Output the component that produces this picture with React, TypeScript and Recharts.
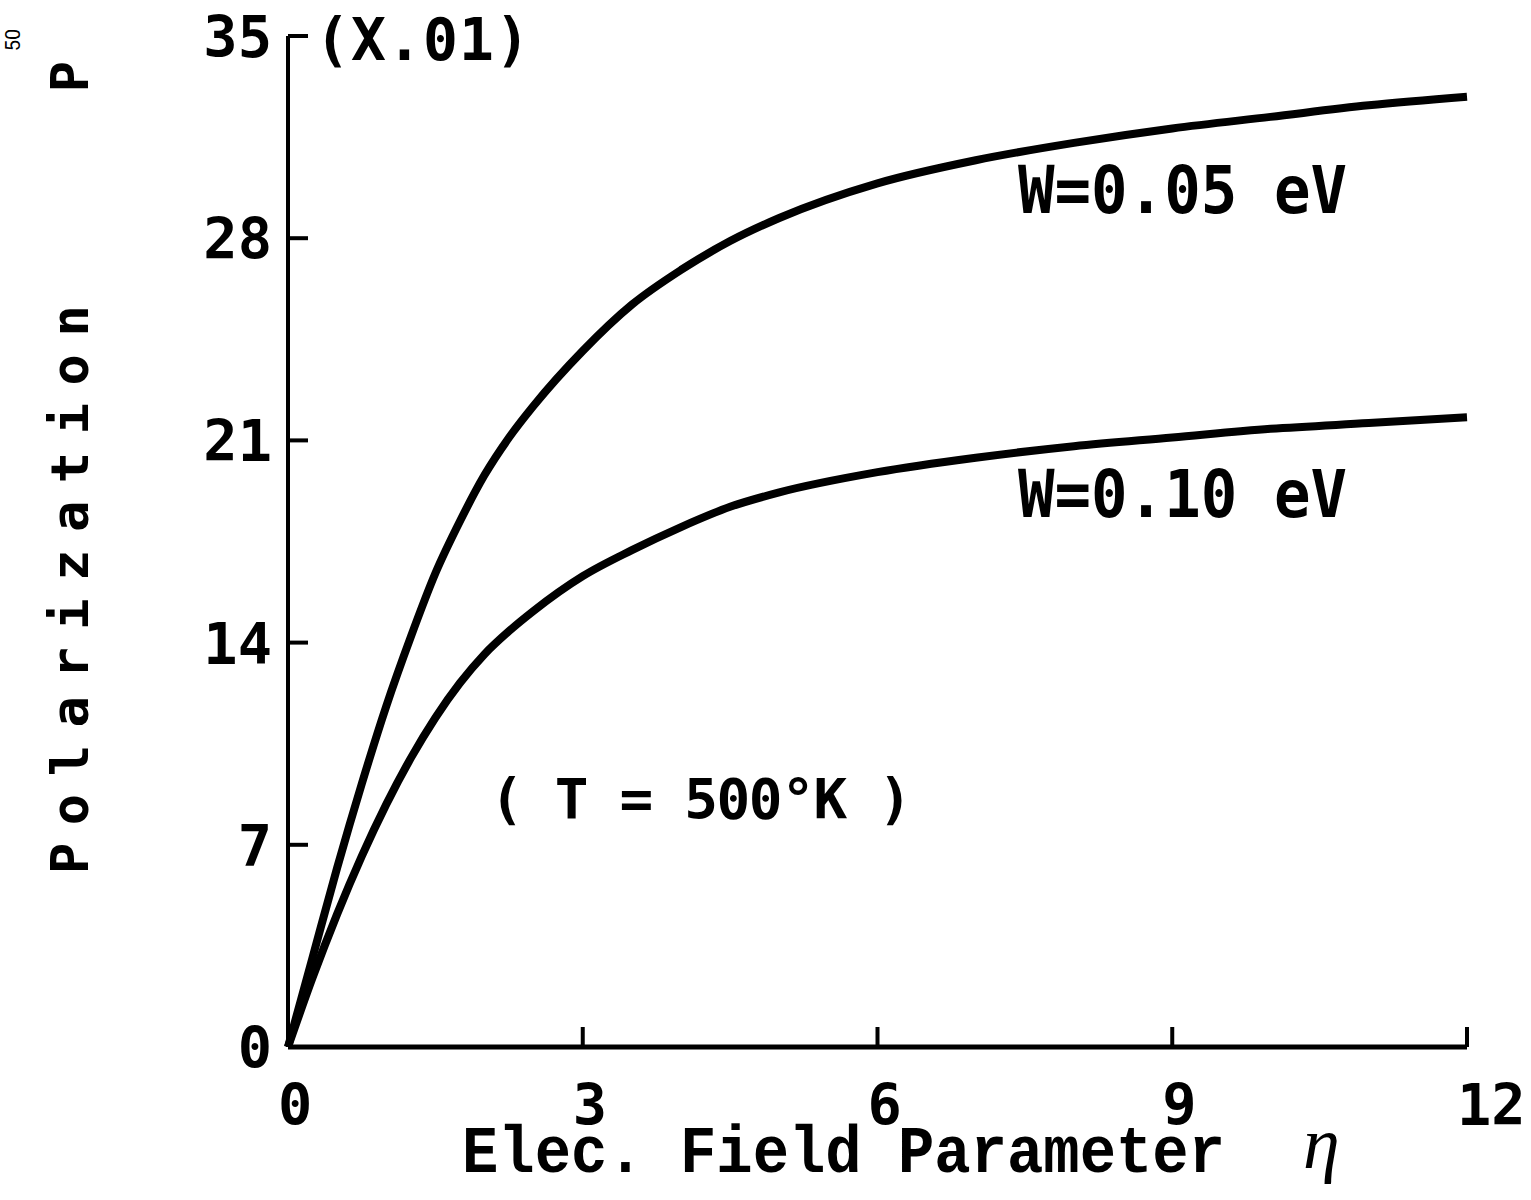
import React from 'react';
import { LineChart, Line, XAxis, YAxis } from 'recharts';

// electric field parameter eta and polarization P (x 0.01)
const ETA = [0, 0.25, 0.5, 0.75, 1, 1.25, 1.5, 1.75, 2, 2.25, 2.5, 3, 3.5, 4, 4.5, 5, 6, 7, 8, 9, 10, 11, 12];
const P_W005 = [0, 3.1, 6.2, 9.1, 11.8, 14.2, 16.4, 18.2, 19.8, 21.1, 22.2, 24.1, 25.7, 26.9, 27.9, 28.7, 29.9, 30.7, 31.3, 31.8, 32.2, 32.6, 32.9];
const P_W010 = [0, 2.4, 4.6, 6.6, 8.4, 10.0, 11.4, 12.6, 13.6, 14.4, 15.1, 16.3, 17.2, 18.0, 18.7, 19.2, 19.9, 20.4, 20.8, 21.1, 21.4, 21.6, 21.8];
const X_TICKS = [0, 3, 6, 9, 12];
const Y_TICKS = [0, 7, 14, 21, 28, 35];

const data = ETA.map((eta, i) => ({ eta, w005: P_W005[i], w010: P_W010[i] }));

const MONO = '"DejaVu Sans Mono", monospace';

function XTick(props: any) {
  const { x, y, payload } = props;
  return (
    <g>
      <line x1={x} y1={y} x2={x} y2={y - 20} stroke="#000" strokeWidth={4} />
      <text x={x - 10} y={y + 78} textAnchor="start" fontFamily={MONO} fontWeight="bold" fontSize={57} fill="#000">
        {payload.value}
      </text>
    </g>
  );
}

function YTick(props: any) {
  const { x, y, payload } = props;
  return (
    <g>
      <line x1={x} y1={y} x2={x + 20} y2={y} stroke="#000" strokeWidth={4} />
      <text x={x - 16} y={y + 21} textAnchor="end" fontFamily={MONO} fontWeight="bold" fontSize={57} fill="#000">
        {payload.value}
      </text>
    </g>
  );
}

export default function App() {
  return (
    <div style={{ position: 'relative', width: 1531, height: 1200, background: '#fff' }}>
      <style>{'body{margin:0}'}</style>
      <LineChart width={1531} height={1200} data={data} margin={{ top: 36, right: 64, bottom: 93, left: 228 }}>
        <XAxis
          dataKey="eta"
          type="number"
          domain={[0, 12]}
          ticks={X_TICKS}
          interval={0}
          height={60}
          tickSize={0}
          tickMargin={0}
          tickLine={false}
          axisLine={{ stroke: '#000', strokeWidth: 5 }}
          tick={<XTick />}
        />
        <YAxis
          type="number"
          domain={[0, 35]}
          ticks={Y_TICKS}
          interval={0}
          width={60}
          tickSize={0}
          tickMargin={0}
          tickLine={false}
          axisLine={{ stroke: '#000', strokeWidth: 4 }}
          tick={<YTick />}
        />
        <Line type="monotone" dataKey="w005" stroke="#000" strokeWidth={8} dot={false} isAnimationActive={false} />
        <Line type="monotone" dataKey="w010" stroke="#000" strokeWidth={8} dot={false} isAnimationActive={false} />
      </LineChart>
      <svg width={1531} height={1200} style={{ position: 'absolute', left: 0, top: 0, pointerEvents: 'none' }}>
        <text x={315} y={60} fontFamily={MONO} fontWeight="bold" fontSize={58} fill="#000" textLength={215} lengthAdjust="spacing">
          (X.01)
        </text>
        <text transform="translate(20, 40) rotate(-90)" textAnchor="middle" fontFamily="Roboto, sans-serif" fontSize={20} fill="#000">
          50
        </text>
        <text transform="translate(88, 874) rotate(-90)" fontFamily={MONO} fontWeight="bold" fontSize={52} fill="#000" textLength={813} lengthAdjust="spacing" style={{ whiteSpace: 'pre' }}>
          {'Polarization    P'}
        </text>
        <text x={462} y={1172} fontFamily='"Liberation Mono", monospace' fontWeight="bold" fontSize={66} fill="#000" textLength={763} lengthAdjust="spacingAndGlyphs">
          Elec. Field Parameter
        </text>
        <text x={1303} y={1168} fontFamily='"Liberation Serif", serif' fontStyle="italic" fontSize={74} fill="#000">
          η
        </text>
        <text x={1018} y={213} fontFamily={MONO} fontWeight="bold" fontSize={66} fill="#000" textLength={329} lengthAdjust="spacingAndGlyphs" style={{ whiteSpace: 'pre' }}>
          {'W=0.05 eV'}
        </text>
        <text x={1018} y={517} fontFamily={MONO} fontWeight="bold" fontSize={66} fill="#000" textLength={329} lengthAdjust="spacingAndGlyphs" style={{ whiteSpace: 'pre' }}>
          {'W=0.10 eV'}
        </text>
        <text x={490} y={818} fontFamily={MONO} fontWeight="bold" fontSize={56} fill="#000" textLength={422} lengthAdjust="spacing" style={{ whiteSpace: 'pre' }}>
          {'( T = 500°K )'}
        </text>
      </svg>
    </div>
  );
}
